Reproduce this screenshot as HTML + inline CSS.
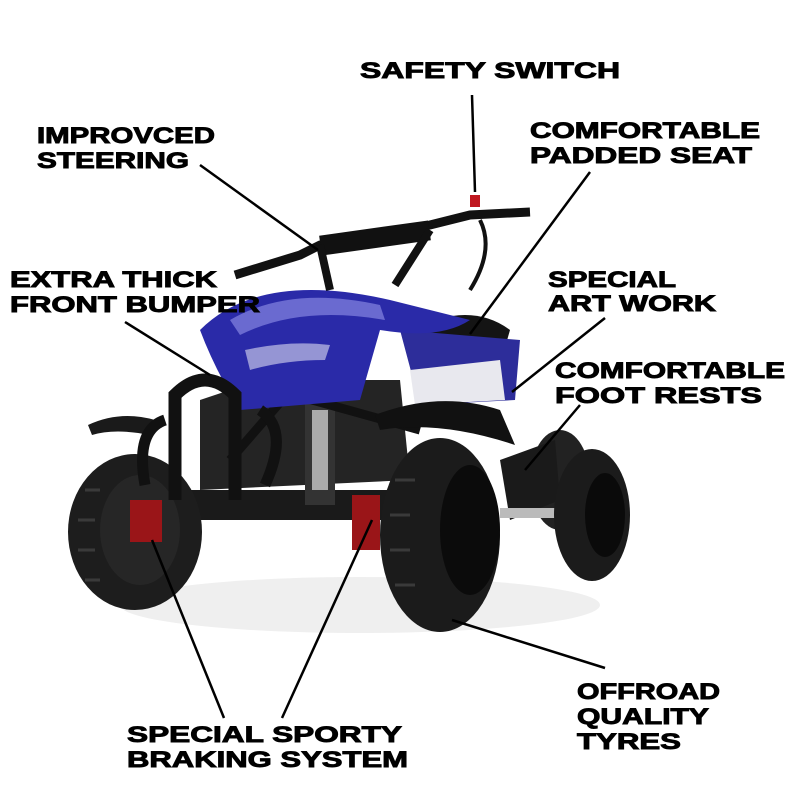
<!DOCTYPE html>
<html><head><style>
html,body{margin:0;padding:0;background:#fff;width:800px;height:800px;overflow:hidden}
svg{display:block}
text{font-family:"Liberation Sans",sans-serif;font-weight:bold;font-size:22px;fill:#000;stroke:#000;stroke-width:0.9}
</style></head><body>
<svg width="800" height="800" viewBox="0 0 800 800" xmlns="http://www.w3.org/2000/svg">
<rect width="800" height="800" fill="#fff"/>
<ellipse cx="360" cy="605" rx="240" ry="28" fill="#efefef"/>
<!-- rear left wheel -->
<ellipse cx="560" cy="480" rx="30" ry="50" fill="#222"/>
<!-- footrest -->
<polygon points="500,460 555,440 560,500 510,520" fill="#1a1a1a"/>
<rect x="500" y="508" width="60" height="10" fill="#bbb"/>
<!-- rear right wheel -->
<ellipse cx="592" cy="515" rx="38" ry="66" fill="#1b1b1b"/>
<ellipse cx="605" cy="515" rx="20" ry="42" fill="#0a0a0a"/>
<!-- frame -->
<rect x="150" y="490" width="300" height="30" fill="#1a1a1a"/>
<path d="M200,400 L260,380 L400,380 L410,480 L200,490 Z" fill="#242424"/>
<rect x="305" y="395" width="30" height="110" fill="#333"/>
<rect x="312" y="410" width="16" height="80" fill="#aaa"/>
<path d="M240,380 L420,430 M330,345 L230,460" stroke="#111" stroke-width="9"/>
<!-- seat -->
<path d="M410,330 Q470,300 510,330 L500,365 L420,360 Z" fill="#141414"/>
<path d="M400,330 L520,340 L515,400 L420,405 Z" fill="#2d2d9a"/>
<path d="M410,370 L500,360 L505,400 L415,405 Z" fill="#e8e8ee"/>
<!-- front body -->
<path d="M200,330 Q260,270 390,300 L470,320 Q440,340 380,330 L360,400 L240,410 Q215,370 200,330 Z" fill="#2a2aa8"/>
<path d="M230,320 Q290,285 380,305 L385,320 Q300,305 240,335 Z" fill="#6a6ad0"/>
<path d="M245,350 Q290,340 330,345 L325,360 Q285,360 250,370 Z" fill="#fff" opacity="0.5"/>
<path d="M375,415 Q440,390 500,410 L515,445 Q440,420 380,430 Z" fill="#111"/>
<path d="M88,425 Q120,410 155,420 L150,435 Q115,428 92,435 Z" fill="#1a1a1a"/>
<!-- front left wheel -->
<ellipse cx="135" cy="532" rx="67" ry="78" fill="#1d1d1d"/>
<ellipse cx="140" cy="530" rx="40" ry="55" fill="#262626"/>
<g stroke="#3a3a3a" stroke-width="3">
<line x1="85" y1="490" x2="100" y2="490"/><line x1="78" y1="520" x2="95" y2="520"/><line x1="78" y1="550" x2="95" y2="550"/><line x1="85" y1="580" x2="100" y2="580"/>
</g>
<!-- bumper -->
<path d="M175,500 L175,395 Q205,365 235,395 L235,500" fill="none" stroke="#111" stroke-width="13"/>
<path d="M145,485 Q135,430 165,420 M265,485 Q290,430 260,410" fill="none" stroke="#111" stroke-width="11"/>
<!-- front right wheel -->
<ellipse cx="440" cy="535" rx="60" ry="97" fill="#1b1b1b"/>
<ellipse cx="470" cy="530" rx="30" ry="65" fill="#0b0b0b"/>
<g stroke="#3a3a3a" stroke-width="3">
<line x1="395" y1="480" x2="415" y2="480"/><line x1="390" y1="515" x2="410" y2="515"/><line x1="390" y1="550" x2="410" y2="550"/><line x1="395" y1="585" x2="415" y2="585"/>
</g>
<rect x="130" y="500" width="32" height="42" fill="#9a1518"/>
<rect x="352" y="495" width="28" height="55" fill="#9a1518"/>
<!-- handlebars -->
<path d="M235,275 L300,255 L320,245 L430,225 L470,215 L530,212" fill="none" stroke="#111" stroke-width="9"/>
<rect x="320" y="228" width="110" height="20" fill="#111" transform="rotate(-8 375 238)"/>
<path d="M320,245 L330,290 M430,230 L395,285" stroke="#111" stroke-width="8" fill="none"/>
<path d="M480,220 Q495,250 470,290" stroke="#111" stroke-width="4" fill="none"/>
<rect x="470" y="195" width="10" height="12" fill="#c01820"/>
<g stroke="#000" stroke-width="2.5" fill="none">
<line x1="472" y1="95" x2="475" y2="192"/>
<line x1="200" y1="165" x2="318" y2="250"/>
<line x1="590" y1="172" x2="470" y2="334"/>
<line x1="125" y1="322" x2="210" y2="375"/>
<line x1="605" y1="318" x2="512" y2="392"/>
<line x1="580" y1="405" x2="525" y2="470"/>
<line x1="605" y1="668" x2="452" y2="620"/>
<line x1="224" y1="718" x2="152" y2="540"/>
<line x1="282" y1="718" x2="372" y2="520"/>
</g>
<text x="360" y="78" textLength="260" lengthAdjust="spacingAndGlyphs">SAFETY SWITCH</text>
<text x="37" y="143" textLength="178" lengthAdjust="spacingAndGlyphs">IMPROVCED</text>
<text x="37" y="168" textLength="152" lengthAdjust="spacingAndGlyphs">STEERING</text>
<text x="530" y="138" textLength="230" lengthAdjust="spacingAndGlyphs">COMFORTABLE</text>
<text x="530" y="163" textLength="222" lengthAdjust="spacingAndGlyphs">PADDED SEAT</text>
<text x="10" y="287" textLength="207" lengthAdjust="spacingAndGlyphs">EXTRA THICK</text>
<text x="10" y="312" textLength="250" lengthAdjust="spacingAndGlyphs">FRONT BUMPER</text>
<text x="548" y="287" textLength="128" lengthAdjust="spacingAndGlyphs">SPECIAL</text>
<text x="548" y="311" textLength="168" lengthAdjust="spacingAndGlyphs">ART WORK</text>
<text x="555" y="378" textLength="230" lengthAdjust="spacingAndGlyphs">COMFORTABLE</text>
<text x="555" y="403" textLength="207" lengthAdjust="spacingAndGlyphs">FOOT RESTS</text>
<text x="577" y="699" textLength="143" lengthAdjust="spacingAndGlyphs">OFFROAD</text>
<text x="577" y="724" textLength="132" lengthAdjust="spacingAndGlyphs">QUALITY</text>
<text x="577" y="749" textLength="104" lengthAdjust="spacingAndGlyphs">TYRES</text>
<text x="127" y="742" textLength="275" lengthAdjust="spacingAndGlyphs">SPECIAL SPORTY</text>
<text x="127" y="767" textLength="281" lengthAdjust="spacingAndGlyphs">BRAKING SYSTEM</text>
</svg>
</body></html>
